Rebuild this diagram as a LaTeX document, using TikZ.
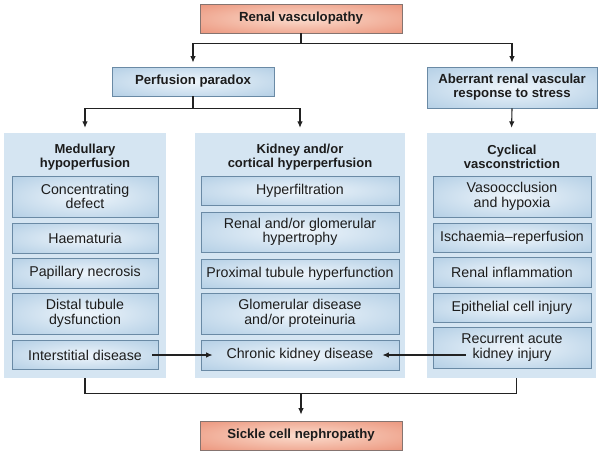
\documentclass[tikz,border=0pt]{standalone}
\usepackage{fontspec}
\setmainfont{Liberation Sans}
\usetikzlibrary{arrows.meta}
\definecolor{bOut}{HTML}{A6C6E0}
\definecolor{bIn}{HTML}{EEF5FB}
\definecolor{bLine}{HTML}{6A8AA5}
\definecolor{pFill}{HTML}{D5E5F2}
\definecolor{sOut}{HTML}{E8866B}
\definecolor{sIn}{HTML}{FBDCCD}
\definecolor{sLine}{HTML}{857470}
\definecolor{txt}{HTML}{1C1C1C}
\definecolor{conn}{HTML}{222222}
\pgfdeclareradialshading{blueshade}{\pgfpoint{0bp}{0bp}}{color(0bp)=(bIn); color(44bp)=(bOut); color(50bp)=(bOut)}
\pgfdeclareradialshading{salshade}{\pgfpoint{0bp}{0bp}}{color(0bp)=(sIn); color(44bp)=(sOut); color(50bp)=(sOut)}
\tikzset{
  box/.style={draw=bLine, line width=0.8pt, shading=blueshade, inner sep=0pt, align=center, text=txt, font=\fontsize{14.2}{14.5}\selectfont},
  lbox/.style={box, minimum width=146},
  mbox/.style={box, minimum width=198},
  rbox/.style={box, minimum width=158},
  salbox/.style={draw=sLine, line width=0.8pt, shading=salshade, inner sep=0pt, align=center, text=txt, font=\bfseries\fontsize{13.2}{14}\selectfont, minimum width=202, minimum height=29},
  topbox/.style={box, font=\bfseries\fontsize{13.2}{14}\selectfont},
  panel/.style={fill=pFill, draw=none, inner sep=0pt},
  title/.style={font=\bfseries\fontsize{13}{14}\selectfont, align=center, text=txt, inner sep=0pt},
  arr/.style={-{Latex[length=6.5pt,width=5.5pt]}, line width=1.1pt, draw=conn},
  conline/.style={line width=1.1pt, draw=conn}
}
\begin{document}
\begin{tikzpicture}[x=1pt,y=-1pt]
\useasboundingbox[fill=white] (0,0) rectangle (600,453);
% top
\node[salbox] (rv) at (301,18.5) {Renal vasculopathy};
\node[topbox, minimum width=162, minimum height=29] (pp) at (193,81.5) {Perfusion paradox};
\node[topbox, minimum width=170, minimum height=41] (ab) at (512,87.5) {Aberrant renal vascular\\response to stress};
% panels
\node[panel, minimum width=162, minimum height=245] (lp) at (85,255.5) {};
\node[panel, minimum width=210, minimum height=245] (mp) at (300,255.5) {};
\node[panel, minimum width=169, minimum height=245] (rp) at (511.5,255.5) {};
\node[title] (lt) at (85,157) {Medullary\\hypoperfusion};
\node[title] (mt) at (300,157) {Kidney and/or\\cortical hyperperfusion};
\node[title] (rt) at (512,157) {Cyclical\\vasconstriction};
% left
\node[lbox, minimum height=41] (cd) at (85,196.5) {Concentrating\\defect};
\node[lbox, minimum height=30] (hm) at (85,238) {Haematuria};
\node[lbox, minimum height=30] (pn) at (85,273) {Papillary necrosis};
\node[lbox, minimum height=41] (dt) at (85,313.5) {Distal tubule\\dysfunction};
\node[lbox, minimum height=29] (id) at (85,355) {Interstitial disease};
% middle
\node[mbox, minimum height=29] (hf) at (300,190.5) {Hyperfiltration};
\node[mbox, minimum height=40] (rg) at (300,232) {Renal and/or glomerular\\hypertrophy};
\node[mbox, minimum height=29] (pt) at (300,273.5) {Proximal tubule hyperfunction};
\node[mbox, minimum height=41] (gd) at (300,313.5) {Glomerular disease\\and/or proteinuria};
\node[mbox, minimum height=30] (ckd) at (300,355) {Chronic kidney disease};
% right
\node[rbox, minimum height=41] (vo) at (512,196.5) {Vasoocclusion\\and hypoxia};
\node[rbox, minimum height=29] (ir) at (512,237.5) {Ischaemia--reperfusion};
\node[rbox, minimum height=30] (ri) at (512,272) {Renal inflammation};
\node[rbox, minimum height=29] (ec) at (512,307.5) {Epithelial cell injury};
\node[rbox, minimum height=41] (rak) at (512,347.5) {Recurrent acute\\kidney injury};
% bottom
\node[salbox] (sc) at (301,435.5) {Sickle cell nephropathy};
% connectors
\draw[arr, shorten >=4pt] (rv.south) -- ++(0,10) -| (pp.north);
\draw[arr, shorten >=4pt] (rv.south) -- ++(0,10) -| (ab.north);
\draw[arr, shorten >=5pt] (pp.south) -- ++(0,12) -| (lp.north);
\draw[arr, shorten >=5pt] (pp.south) -- ++(0,12) -| (mp.north);
\draw[arr, shorten >=5pt] (ab.south) -- (rp.north);
\draw[arr] ([xshift=-6pt]id.east) -- ([xshift=12pt]ckd.west |- id.east);
\draw[arr] ([xshift=33pt]rak.west |- ckd.east) -- ([xshift=-17pt]ckd.east);
\path (lp.south) ++(0,15) coordinate (jl);
\draw[conline] (lp.south) -- (jl) -| ([xshift=5pt]rp.south);
\draw[arr, shorten >=6pt] (sc.north |- jl) -- (sc.north);
\end{tikzpicture}
\end{document}
